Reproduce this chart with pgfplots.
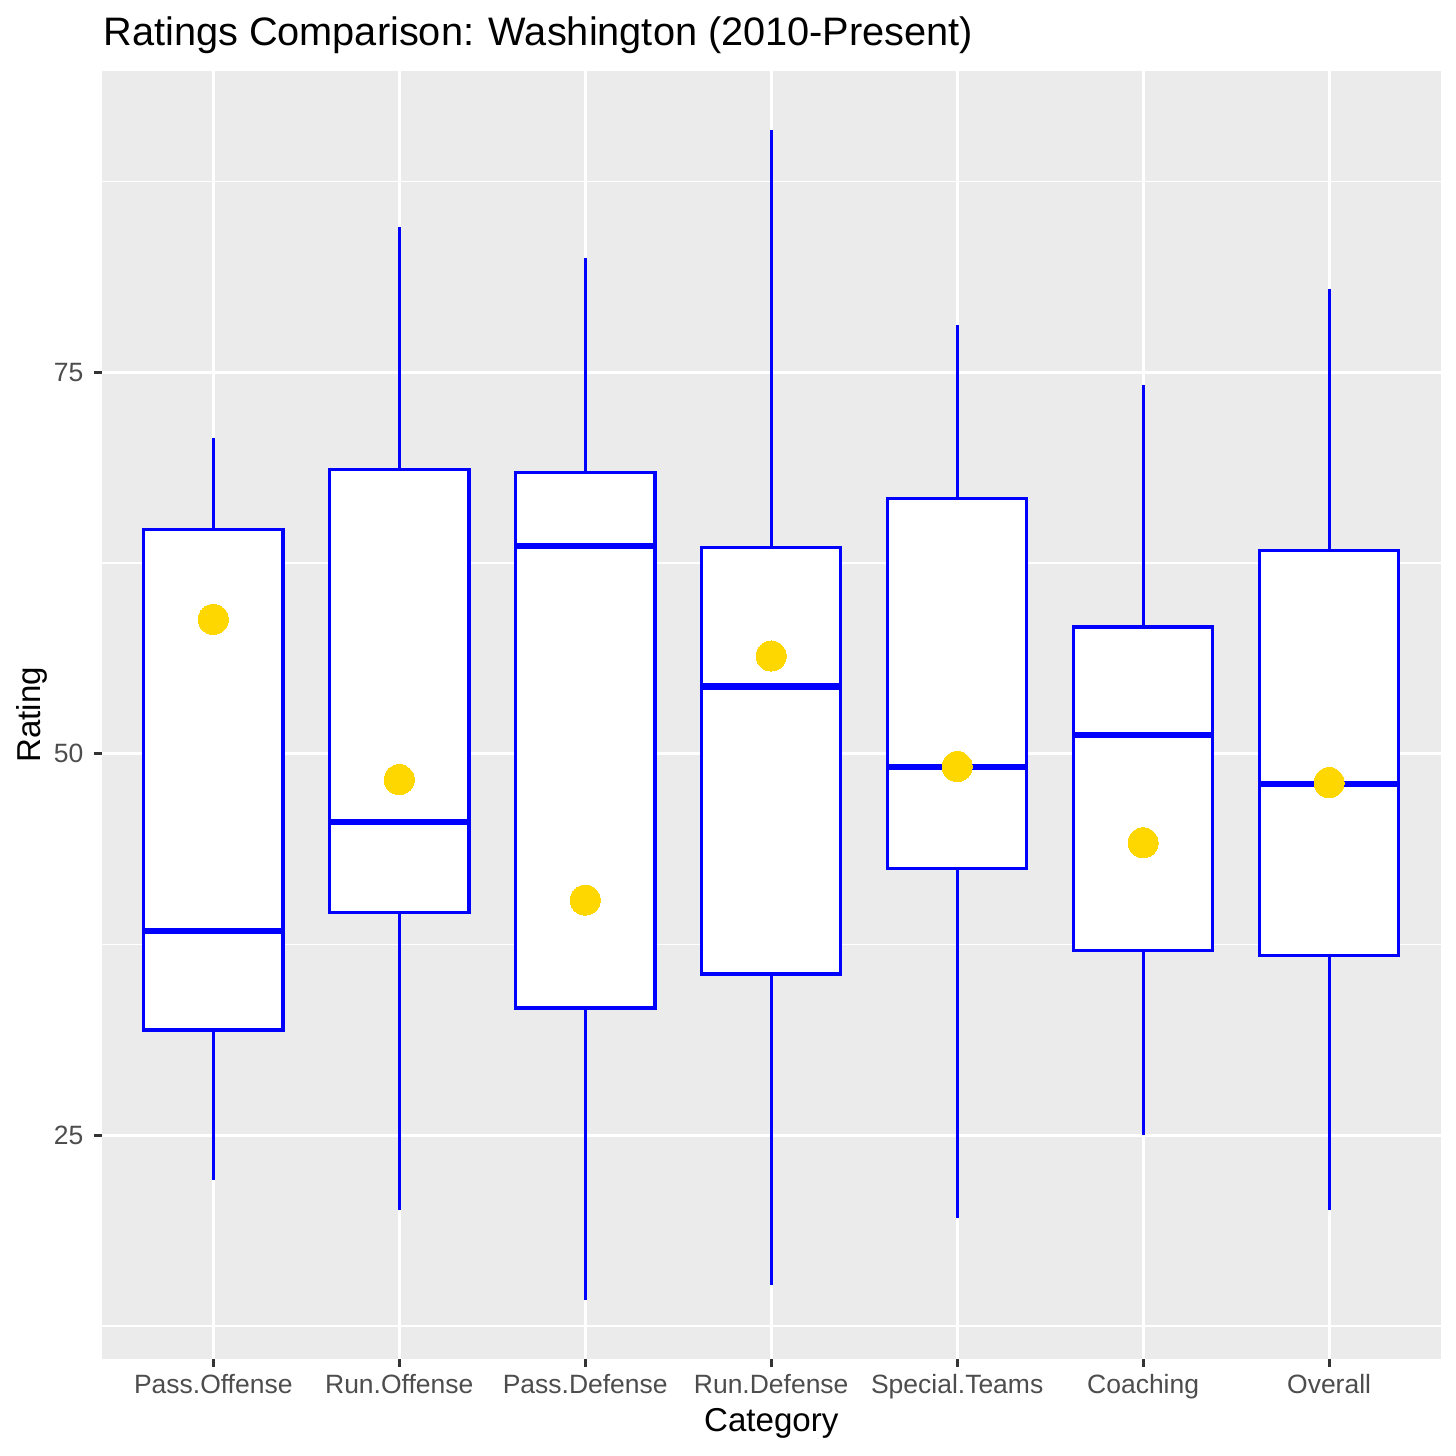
\documentclass[border=0pt]{standalone}
\usepackage{pgfplots}
\pgfplotsset{compat=1.18}
\usepackage{fontspec}
\setmainfont{Liberation Sans}
\definecolor{panelbg}{HTML}{EBEBEB}
\definecolor{ticklab}{HTML}{4D4D4D}
\definecolor{tickcol}{HTML}{333333}
\definecolor{meangold}{HTML}{FFD700}
% #1 position, #2 box left, #3 box right, #4 lower whisker, #5 Q1, #6 median, #7 Q3, #8 upper whisker
\newcommand{\ggbox}[8]{%
  \addplot[blue, line width=1.07pt, forget plot] coordinates {(#1,#4) (#1,#5)};
  \addplot[blue, line width=1.07pt, forget plot] coordinates {(#1,#7) (#1,#8)};
  \addplot[draw=blue, fill=white, line width=1.07pt, line join=miter, forget plot] coordinates {(#2,#5) (#3,#5) (#3,#7) (#2,#7)} -- cycle;
  \addplot[blue, line width=2.13pt, forget plot] coordinates {(#2,#6) (#3,#6)};
}
\begin{document}
\begin{tikzpicture}
\path[use as bounding box, fill=white] (0,0) rectangle (504bp,504bp);
\begin{axis}[
  at={(35.2bp,33.6bp)}, anchor=south west,
  scale only axis, width=463.5bp, height=445.8bp,
  xmin=0.4, xmax=7.6, ymin=10.33, ymax=94.74,
  axis background/.style={fill=panelbg},
  axis line style={draw=none},
  xtick={1,2,3,4,5,6,7},
  xticklabels={Pass.Offense,Run.Offense,Pass.Defense,Run.Defense,Special.Teams,Coaching,Overall},
  ytick={25,50,75},
  minor ytick={12.5,37.5,62.5,87.5},
  grid=both,
  major grid style={white, line width=1.07pt},
  minor grid style={white, line width=0.53pt},
  tick align=outside, tick pos=left,
  major tick length=2.75pt, minor tick length=0pt,
  tick style={tickcol, line width=1.07pt},
  /pgf/number format/assume math mode=true,
  xticklabel style={font=\fontsize{9.2}{11}\selectfont, text=ticklab, anchor=north, inner sep=0pt, text height=6.6pt, text depth=0pt, yshift=-2.45bp},
  yticklabel style={font=\fontsize{9.2}{11}\selectfont, text=ticklab, anchor=east, inner sep=0pt, xshift=-3.4bp},
]
\ggbox{1}{0.625}{1.375}{22.05}{31.89}{38.39}{64.70}{70.67}
\ggbox{2}{1.625}{2.375}{20.08}{39.57}{45.50}{68.60}{84.50}
\ggbox{3}{2.625}{3.375}{14.17}{33.33}{63.60}{68.40}{82.50}
\ggbox{4}{3.625}{4.375}{15.20}{35.56}{54.40}{63.50}{90.90}
\ggbox{5}{4.625}{5.375}{19.55}{42.50}{49.15}{66.70}{78.10}
\ggbox{6}{5.625}{6.375}{25.00}{37.07}{51.20}{58.30}{74.15}
\ggbox{7}{6.625}{7.375}{20.08}{36.80}{48.00}{63.30}{80.45}
\addplot[only marks, mark=*, color=meangold, mark size=5.2bp, mark options={draw=meangold, fill=meangold, line width=0pt}] coordinates {
(1,58.8) (2,48.3) (3,40.4) (4,56.4) (5,49.15) (6,44.16) (7,48.1)};
\end{axis}
\node[anchor=base west, inner sep=0pt, font=\fontsize{13.8}{16}\selectfont] at (35.6bp,488.1bp) {Ratings Comparison: Washington (2010-Present)};
\node[anchor=base, inner sep=0pt, font=\fontsize{11.5}{13}\selectfont] at (267.0bp,8.4bp) {Category};
\node[anchor=base, rotate=90, inner sep=0pt, font=\fontsize{11.5}{13}\selectfont] at (14.1bp,256.5bp) {Rating};
\end{tikzpicture}
\end{document}
